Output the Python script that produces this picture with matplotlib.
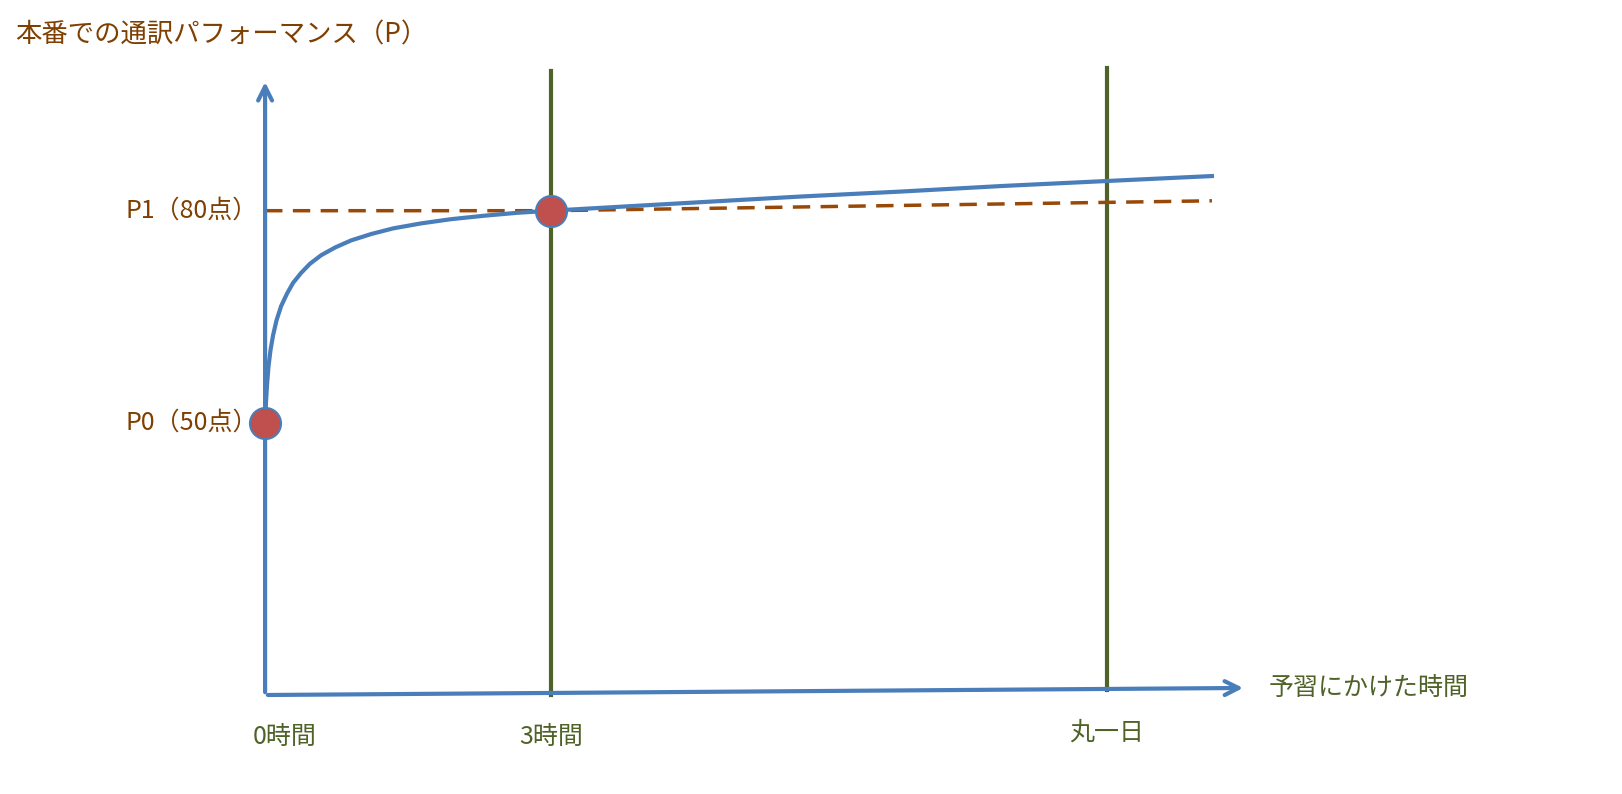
import matplotlib
matplotlib.use("Agg")
import matplotlib.pyplot as plt

plt.rcParams["font.family"] = ["Noto Sans CJK JP", "DejaVu Sans"]

# data (x in units where 3時間 = 1; y in points)
curve_x = [0, 0.003, 0.007, 0.012, 0.019, 0.028, 0.040, 0.056, 0.077, 0.098, 0.126,
           0.157, 0.196, 0.245, 0.301, 0.371, 0.448, 0.545, 0.650, 0.769, 0.881, 1.0,
           1.259, 1.521, 1.871, 2.220, 2.580, 2.944, 3.311]
curve_y = [50, 52.8, 55.5, 58.0, 60.3, 62.4, 64.5, 66.5, 68.3, 69.8, 71.2,
           72.5, 73.7, 74.8, 75.8, 76.7, 77.5, 78.2, 78.8, 79.3, 79.7, 80.0,
           80.6, 81.2, 82.0, 82.7, 83.5, 84.2, 84.9]
dash_x = [0, 1.0, 3.311]
dash_y = [80, 80, 81.4]
points_x = [0, 1.0]
points_y = [50, 80]
tick_pos = [0, 1.0, 2.944]
tick_labels = ["0時間", "3時間", "丸一日"]
ylabels = ["P0（50点）", "P1（80点）"]
ylab_vals = [50, 80]

blue = "#4a7ebb"; green = "#4f6228"; brown = "#984807"; tbrown = "#7f3f00"

fig = plt.figure(figsize=(16.22, 7.94), dpi=100)
ax = fig.add_axes([0, 0, 1, 1])
ax.set_xlim(-0.927, 4.745)
ax.set_ylim(-2.5, 109.8)
ax.axis("off")

yb = 11.5  # axis baseline
ax.plot([1.0, 1.0], [yb, 99.8], color=green, lw=3)
ax.plot([2.944, 2.944], [yb + 0.7, 100.2], color=green, lw=3)
ax.annotate("", xy=(3.43, yb + 1.0), xytext=(0, yb),
            arrowprops=dict(arrowstyle="->", color=blue, lw=3, mutation_scale=25))
ax.annotate("", xy=(0, 98.6), xytext=(0, yb),
            arrowprops=dict(arrowstyle="->", color=blue, lw=3, mutation_scale=25))
ax.plot(dash_x, dash_y, color=brown, lw=2.5, ls=(0, (5, 3)))
ax.plot(curve_x, curve_y, color=blue, lw=3, solid_joinstyle="round")
ax.scatter(points_x, points_y, s=500, color="#c0504d", edgecolor=blue, lw=1.5, zorder=5)

for v, l in zip(ylab_vals, ylabels):
    ax.text(-0.025, v, l, ha="right", va="center", fontsize=18, color=tbrown)
for p, l in zip(tick_pos, tick_labels):
    ax.text(p + (0.07 if p == 0 else 0), 5.5 if p != 2.944 else 6.2, l,
            ha="center", va="center", fontsize=18, color=green)
ax.text(3.51, yb + 1.0, "予習にかけた時間", ha="left", va="center", fontsize=18, color=green)
ax.text(-0.875, 104.8, "本番での通訳パフォーマンス（P）", ha="left", va="center",
        fontsize=19, color=tbrown)

fig.savefig("out.png", dpi=100)
